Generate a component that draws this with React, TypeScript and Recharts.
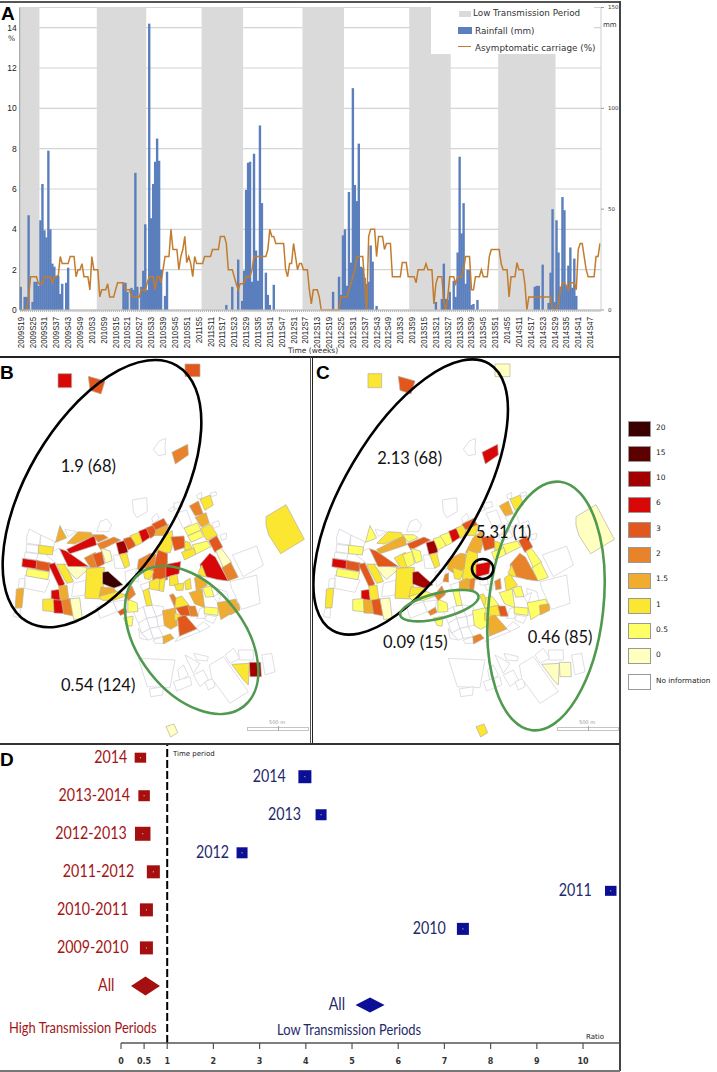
import React from 'react';
import {
  Bar,
  CartesianGrid,
  ComposedChart,
  Line,
  ReferenceArea,
  ReferenceLine,
  Scatter,
  ScatterChart,
  XAxis,
  YAxis,
} from 'recharts';

// Panel A: weekly values, one list per year (52 weeks, 2009 starts at week 19)
const RAIN_2009 = [11.5,0,6.5,6.5,47,0,4,14,14,12,44.5,62.5,39.5,36,79,40,23,21.5,17,17,8,13,0,13.5,21,0,0,0,0,0,0,0,0,0];
const RAIN_2010 = [0,0,0,0,0,0,0,0,0,0,0,0,0,0,0,0,0,0,13.5,13.5,9,0,11,10,68,11.5,0,11.5,19.5,42.5,10,142,45.5,62.5,73.5,85,74,20,0,7,19,0,0,0,0,0,0,0,0,0,0,0];
const RAIN_2011 = [0,0,0,0,0,0,0,0,0,0,0,0,0,0,0,0,0,0,2.5,0,0,11.5,0,0,25,0,4.5,19.5,59.5,73,73.5,14,77.5,29.5,14.5,91.5,53,0,18.5,7.5,2.5,0,12.5,0,0,0,0,0,0,0,0,0];
const RAIN_2012 = [0,0,0,0,0,0,0,0,0,0,0,0,0,0,0,0,0,0,0,0,9,0,0,16.5,7.5,37,40,12,58.5,23.5,110,62,54,82.5,21.5,21,16,13,14,32,24,0,2,0,0,0,0,0,0,0,0,0];
const RAIN_2013 = [0,0,0,0,0,0,0,0,0,0,0,0,0,0,0,0,0,0,0,0,4,0,0,5.5,23,5.5,5,9,0,14.5,6.5,28.5,76,38,53,13,20,20,2.5,3,0,5,0,0,0,0,0,0,0,0,0,0];
const RAIN_2014 = [0,0,0,0,0,0,0,0,0,0,0,0,0,0,0,0,0,0,11.5,12,12,0,22.5,0,0,3.5,18.5,50,4,44.5,28.5,11.5,56,49.5,12,22,31,11,25.5,7,0,0,0,0,0,0,0,0,0,0,0,0];

const CARRIAGE_2009 = [0,0,0,0,0.65,1.65,1.65,1.65,1.65,1.3,1.3,1.3,1.65,1.65,1.65,1.65,1.35,1.65,1.65,1.7,2.65,2.3,2.3,2.3,2.3,2.65,2.65,2.65,1.65,2,2,2.3,1.65,1.65];
const CARRIAGE_2010 = [1.65,1,2.65,2,2,2,0.65,1,1,1,1.3,0.65,0.65,0.65,1,1.35,1.35,1.35,1.35,1,1,1,0.7,0.65,0.65,0.65,0.65,1,1,0.95,1.35,1.65,1.65,1.65,1,1.65,1.65,1.35,2,2.65,2.65,2.65,4,3,3,3,2,2.65,3,3.65,2.35,2.65];
const CARRIAGE_2011 = [2.3,1.65,2.65,2.3,2.3,2.3,2.3,2.65,2.65,2.65,2.65,3,3,3,3,3.65,3.65,3.65,3.3,2,2,2,1.65,1.3,1,1.3,1.3,1.35,1.65,1.65,1.65,2,2.65,2.65,2.65,2.65,2.65,2.65,2.65,3,4,3.65,3.65,3.3,3.3,3.3,3.3,3.3,2,1.65,2.3,2.3];
const CARRIAGE_2012 = [3.3,2.65,2,2.3,2.3,2,2,2,1,0.3,1,1,1,0.65,0,0,0,0,0,0,0,0,0,0,0.65,0.65,0.65,0.65,1,1.3,1.65,2,2.65,2.65,2.65,2.65,1.3,0,3.65,4,4,4,2.65,3.65,3.65,3.65,3,3.3,3.3,3.3,1.65,1.65];
const CARRIAGE_2013 = [1.65,1.65,1.65,2.35,2.35,2.35,1.65,1.65,1.65,1.65,1.35,2,2,2,2,2.3,2,2,2,0.3,1.3,1.65,1.65,1.65,0.4,0,0.65,1.65,1.65,1.65,1.3,1.65,1.65,1.65,2,2.65,2.65,2.65,1,1,1.65,1.65,1.65,2,1.65,1.65,1.65,2.65,3,3,3,3];
const CARRIAGE_2014 = [3,2.3,2,2,2,0.65,1.65,1.65,1.65,2.35,2,2,2,1.3,0,0.65,0.65,0.65,0.65,0.65,0.65,0.65,0.65,0.65,0.65,0.65,0.65,0,0,0,0.3,1,1.35,1.35,1.2,1,1.35,1.35,1.35,1,3,3.3,3.3,2.65,2,1.65,1.65,1.65,1.65,2.65,2.65,3.3];

const YEARS = [2009, 2010, 2011, 2012, 2013, 2014];
const RAIN = [RAIN_2009, RAIN_2010, RAIN_2011, RAIN_2012, RAIN_2013, RAIN_2014];
const CARRIAGE = [CARRIAGE_2009, CARRIAGE_2010, CARRIAGE_2011, CARRIAGE_2012, CARRIAGE_2013, CARRIAGE_2014];

const LOW_PERIODS = [
  ['2009S19', '2009S28'],
  ['2010S6', '2010S30'],
  ['2011S7', '2011S27'],
  ['2012S6', '2012S26'],
  ['2013S8', '2013S28'],
  ['2014S1', '2014S29'],
];

const PCT_TICKS = [0, 2, 4, 6, 8, 10, 12, 14];
const MM_TICKS = [0, 50, 100, 150];

const weekly = YEARS.flatMap((year, y) =>
  RAIN[y].map((rain, i) => ({
    week: `${year}S${y === 0 ? i + 19 : i + 1}`,
    rain,
    carriage: CARRIAGE[y][i],
  }))
);

// Panels B and C: risk classes of the map legend
const RISK_LABELS = ['20', '15', '10', '6', '3', '2', '1.5', '1', '0.5', '0', 'No information'];
const RISK_COLORS = ['#3a0000', '#5c0000', '#a30000', '#d80808', '#e2581c', '#e8832a', '#f0ac2e', '#fbe631', '#ffff66', '#ffffbf', '#ffffff'];
const riskColor = (k: string) => RISK_COLORS[RISK_LABELS.indexOf(k)] ?? '#ffffff';

// map cells in map units: outline, class in panel B, class in panel C (n = no information)
const MAP_CELLS: [string, string, string][] = [
  ['460,283 478,258 497,250 495,278 497,298 475,302', 'n', 'n'],
  ['397,435 440,428 442,470 410,488 400,470', 'n', 'n'],
  ['80,545 88,522 122,540 118,570 80,565', 'n', 'n'],
  ['122,540 165,560 155,600 122,570', 'n', 'n'],
  ['80,568 116,572 114,595 78,590', 'n', 'n'],
  ['75,592 114,597 110,615 73,610', 'n', 'n'],
  ['75,660 150,675 135,712 75,700', 'n', 'n'],
  ['58,672 75,670 72,700 55,698', 'n', 'n'],
  ['45,762 62,758 60,788 40,785', 'n', 'n'],
  ['697,600 770,573 790,630 730,665', 'n', 'n'],
  ['690,680 770,660 780,745 725,763 695,700', 'n', 'n'],
  ['290,755 340,740 352,770 300,790', 'n', 'n'],
  ['340,740 380,735 375,770 352,770', 'n', 'n'],
  ['400,770 430,755 440,790 415,805', 'n', 'n'],
  ['430,755 455,750 470,785 440,790', 'n', 'n'],
  ['455,750 490,755 490,775 470,785', 'n', 'n'],
  ['415,805 440,790 450,820 425,835', 'n', 'n'],
  ['440,790 470,785 475,815 450,820', 'n', 'n'],
  ['470,785 490,778 495,810 475,815', 'n', 'n'],
  ['415,820 425,835 445,855 420,850', 'n', 'n'],
  ['425,835 450,820 460,850 445,855', 'n', 'n'],
  ['450,820 475,815 490,845 460,850', 'n', 'n'],
  ['460,855 490,845 490,865 465,865', 'n', 'n'],
  ['587,820 610,800 630,815 600,830', 'n', 'n'],
  ['540,840 590,822 600,830 525,860', 'n', 'n'],
  ['600,760 615,757 615,790 590,790', 'n', 'n'],
  ['620,780 650,785 640,805 615,795', 'n', 'n'],
  ['650,700 680,710 690,745 655,745', 'n', 'n'],
  ['640,725 665,712 655,745', 'n', 'n'],
  ['420,690 450,680 450,700 430,710', 'n', 'n'],
  ['375,650 410,640 400,680 380,695', 'n', 'n'],
  ['340,600 360,600 375,640 345,640', 'n', 'n'],
  ['300,500 320,492 335,510 325,530 290,530', 'n', 'n'],
  ['455,490 470,475 478,490 460,505', 'n', 'n'],
  ['505,465 520,455 525,465 510,470', 'n', 'n'],
  ['520,445 545,440 548,455 525,462', 'n', 'n'],
  ['528,475 560,465 575,505 550,520', 'n', 'n'],
  ['590,420 605,412 605,430 593,432', 'n', 'n'],
  ['630,415 648,410 650,420 635,425', 'n', 'n'],
  ['635,505 655,497 660,512 642,520', 'n', 'n'],
  ['660,540 680,535 678,552 665,556', 'n', 'n'],
  ['195,523 230,530 205,545', 'n', 'n'],
  ['220,685 260,675 255,720 215,725', 'n', 'n'],
  ['138,600 175,580 182,584 205,632 170,625', 'n', 'n'],
  ['415,910 525,915 510,998 442,995', 'n', 'n'],
  ['448,1002 490,995 488,1020 452,1025', 'n', 'n'],
  ['533,945 550,930 565,960 540,980', 'n', 'n'],
  ['555,900 600,925 580,955', 'n', 'n'],
  ['582,895 625,905 622,918 590,915', 'n', 'n'],
  ['520,980 570,965 575,990 530,1008', 'n', 'n'],
  ['580,960 610,945 625,975 600,995', 'n', 'n'],
  ['615,980 640,970 645,995 625,1005', 'n', 'n'],
  ['628,930 670,905 745,1010 690,1045 635,970', 'n', 'n'],
  ['675,900 700,880 720,910 690,925', 'n', 'n'],
  ['715,885 760,885 760,915 718,915', 'n', 'n'],
  ['785,900 815,895 825,950 795,960', 'n', 'n'],
  ['174,56 215,56 215,98 174,98', '6', '1'],
  ['265,64 315,78 303,117 270,106', '3', '3'],
  ['555,27 600,27 600,65 555,65', '3', '0'],
  ['516,292 563,268 565,300 526,327', '2', '6'],
  ['798,485 858,449 913,553 842,596 806,540 798,510', '1', '0'],
  ['498,1115 522,1107 533,1133 512,1146', '0', '1'],
  ['118,572 158,577 155,598 118,595', '1', '0.5'],
  ['70,612 112,618 108,640 68,634', '6', '6'],
  ['112,618 150,625 146,648 110,642', '3', '3'],
  ['85,642 145,652 140,672 82,662', '0.5', '0.5'],
  ['148,632 165,627 192,684 178,695', '6', '3'],
  ['172,632 195,630 218,677 200,682', '1', '1'],
  ['195,630 265,640 230,670 218,660', '0', '0'],
  ['182,584 200,590 260,632 205,632', '6', '3'],
  ['168,560 180,515 198,548', '1.5', '0.5'],
  ['205,563 235,532 270,534 275,545 225,565', '1.5', '1'],
  ['205,582 280,545 285,570 213,594', '6', '1.5'],
  ['280,540 310,540 322,548 295,560', '2', '0.5'],
  ['295,566 340,548 358,556 305,583', '2', '3'],
  ['255,610 285,595 292,635 272,636', '2', '1'],
  ['280,600 305,592 312,625 292,635', '3', '0.5'],
  ['305,582 330,590 335,615 318,622', '0', '0.5'],
  ['262,645 310,642 305,727 258,725', '1', '1'],
  ['310,654 325,652 365,688 340,697 310,685', '20', '10'],
  ['300,725 340,708 375,722 340,735 310,735', '1', '0.5'],
  ['305,697 340,700 345,710 300,722', '1.5', '1'],
  ['155,708 176,705 180,735 155,732', '6', '6'],
  ['178,695 200,693 205,733 182,735', '1.5', '1'],
  ['160,736 186,738 190,773 163,772', '6', '1.5'],
  ['130,735 158,733 160,768 130,765', '1', '0.5'],
  ['186,738 210,733 218,780 192,775', '2', '3'],
  ['212,735 238,732 245,788 222,790', '0', '0'],
  ['50,705 70,703 65,755 47,755', '1.5', '1'],
  ['350,565 375,558 382,590 358,597', '10', '10'],
  ['372,553 398,545 405,572 385,583', '3', '0.5'],
  ['392,543 420,533 428,560 410,570', '1', '0.5'],
  ['418,530 443,520 450,545 428,560', '6', '6'],
  ['440,520 460,512 470,535 452,548', '3', '1'],
  ['458,508 490,492 500,510 470,525', '3', '3'],
  ['470,525 503,510 495,540 465,540', '1.5', '1'],
  ['360,600 380,597 388,630 375,637', '1', '1'],
  ['515,530 490,550 470,590 510,590 518,560', '1', '1.5'],
  ['515,548 550,545 555,575 525,585', '3', '3'],
  ['568,453 595,438 610,478 585,482', '2', '1.5'],
  ['600,433 630,420 640,450 615,466', '1', '1'],
  ['585,487 618,473 628,505 605,517', '1.5', 'n'],
  ['555,520 592,505 600,525 565,540', '0.5', 'n'],
  ['566,543 600,528 608,545 575,560', '0.5', 'n'],
  ['605,522 630,510 650,540 620,553', '1', 'n'],
  ['628,558 650,545 666,575 645,590', '3', '3'],
  ['580,570 620,560 630,575 590,595', '0.5', '0.5'],
  ['547,592 580,580 585,598 555,613', '1', '0.5'],
  ['555,560 568,563 575,580 555,585', '1', '1'],
  ['650,590 665,583 692,620 670,635', '0', '0.5'],
  ['604,630 630,600 645,610 680,674 650,670 610,660', '6', '2'],
  ['668,640 692,625 712,665 685,675', '2', '0.5'],
  ['595,655 605,632 618,665 600,660', '1', '1'],
  ['460,640 475,590 500,600 500,670 460,672', '3', '1'],
  ['500,630 540,622 535,655 500,665', '6', '6'],
  ['418,615 450,598 465,600 460,640 430,650 415,640', '2', '1.5'],
  ['430,640 460,650 450,672 435,670', '1', '1'],
  ['450,680 470,672 482,675 478,705 450,700', '1', '1.5'],
  ['480,675 495,670 490,708 478,705', '1', '2'],
  ['510,665 530,660 535,690 510,690', '1', 'n'],
  ['525,690 550,685 548,705 530,705', '1', 'n'],
  ['555,680 570,672 573,700 558,703', '1', '2'],
  ['585,670 600,660 620,690 590,705', '1.5', '1'],
  ['570,715 605,705 612,755 585,745', '1.5', '0.5'],
  ['610,700 632,695 640,723 618,725', '0.5', '0.5'],
  ['615,757 652,760 652,780 615,775', '0.5', '0.5'],
  ['655,745 705,735 715,760 665,790', '1.5', '0.5'],
  ['690,752 715,748 718,765 692,778', '1.5', '1.5'],
  ['510,722 520,718 535,742 525,758', '2', '1'],
  ['530,730 545,725 565,750 525,760', '1', '0.5'],
  ['530,760 565,752 570,780 545,783', '3', '1'],
  ['565,755 585,755 593,782 572,782', '2', '3'],
  ['490,770 525,762 530,810 512,820 495,810', '1.5', '0.5'],
  ['525,775 550,785 545,795 525,795', '1', '1'],
  ['535,790 555,783 587,820 540,840', '3', '1.5'],
  ['490,845 510,838 520,850 492,865', '1.5', '2'],
  ['430,710 445,703 455,748 440,750', '1', '0.5'],
  ['385,735 410,745 412,768 385,770', '0.5', '0.5'],
  ['375,720 395,695 405,718 385,735', '2', '2'],
  ['372,790 398,785 395,812 382,810', '0.5', '0.5'],
  ['355,770 375,758 380,772 362,780', '3', '2'],
  ['405,660 415,655 415,680 400,678', 'n', '2'],
  ['695,928 748,925 745,990 730,975', '1', '0'],
  ['748,922 782,922 784,965 750,965', '10', '0'],
];

// ellipses in map units: centre x, centre y, semi axes, rotation, colour
const ZONES_B = [
  { x: 306, y: 416, a: 445, b: 227, angle: -59.7, stroke: '#000000' },
  { x: 575, y: 855, a: 253, b: 159, angle: 51.9, stroke: '#4f9a4f' },
];
const ZONES_C = [
  { x: 302, y: 426, a: 464, b: 201, angle: -59.6, stroke: '#000000' },
  { x: 708, y: 753, a: 375, b: 172, angle: -83.6, stroke: '#4f9a4f' },
  { x: 388, y: 752, a: 121, b: 38, angle: -14, stroke: '#4f9a4f' },
  { x: 518, y: 642, a: 32, b: 30, angle: 0, stroke: '#000000' },
];

// Panel D: rows counted from the bottom of the plot
const HIGH_LABELS = ['2014', '2013-2014', '2012-2013', '2011-2012', '2010-2011', '2009-2010', 'All'];
const HIGH_RATIOS = [0.42, 0.5, 0.47, 0.7, 0.55, 0.55, 0.53];
const HIGH_ROWS = [13, 11, 9, 7, 5, 3, 1];
const LOW_LABELS = ['2014', '2013', '2012', '2011', '2010', 'All'];
const LOW_RATIOS = [3.98, 4.33, 2.62, 10.6, 7.4, 5.39];
const LOW_ROWS = [12, 10, 8, 6, 4, 0];
const RATIO_TICKS = [0, 0.5, 1, 2, 3, 4, 5, 6, 7, 8, 9, 10];

// marker size and label gap in px, same order as the lists above
const HIGH_MARKS = [[11.5, 10, 13], [11.5, 11, 14], [15.5, 14, 16], [13, 13, 19], [13, 13, 18], [13, 13, 18], [29, 19, 31]];
const LOW_MARKS = [[13, 13, 19], [11, 11, 20], [11, 11, 13], [11.5, 10, 19], [12, 12, 17], [29, 15, 25]];

const highPoints = HIGH_LABELS.map((label, i) => ({ label, x: HIGH_RATIOS[i], y: HIGH_ROWS[i], mark: HIGH_MARKS[i] }));
const lowPoints = LOW_LABELS.map((label, i) => ({ label, x: LOW_RATIOS[i], y: LOW_ROWS[i], mark: LOW_MARKS[i] }));

const SANS = '"DejaVu Sans", sans-serif';
const PLAIN = '"Liberation Sans", sans-serif';
const HUMAN = 'Lato, sans-serif';

const Note = ({ x, y, size, color = '#111', font = SANS, weight = 400, squeeze = 1, children }: any) => (
  <span
    style={{
      position: 'absolute', left: x, top: y, fontSize: size, color, fontFamily: font,
      fontWeight: weight, lineHeight: 1, whiteSpace: 'nowrap',
      transform: `scaleX(${squeeze})`, transformOrigin: 'left top',
    }}
  >
    {children}
  </span>
);

const Box = ({ x, y, w, h, bg }: any) => (
  <div style={{ position: 'absolute', left: x, top: y, width: w, height: h, background: bg }} />
);

const WeekTick = ({ x, y, payload, index }: any) => (
  <g>
    <line x1={x} x2={x} y1={y - 8} y2={y - 6} stroke="#b5b5b5" />
    {index % 6 === 0 && (
      <text
        transform={`translate(${x + 3},${y - 1}) rotate(-90) scale(0.82,1)`}
        textAnchor="end"
        fontSize={9.5}
        fontFamily={PLAIN}
        fill="#222"
      >
        {payload.value}
      </text>
    )}
  </g>
);

// recharts keeps bars under the band width, the weeks touch each other in the original
const RainBar = ({ x, y, width, height, fill }: any) =>
  height > 0 ? <rect x={x + width / 2 - 1.2} y={y} width={2.4} height={height} fill={fill} /> : null;

const RainChart = () => (
  <ComposedChart
    width={621}
    height={357}
    data={weekly}
    barCategoryGap={0}
    margin={{ top: 7.5, right: 0, bottom: 0, left: 0 }}
  >
    <CartesianGrid yAxisId="pct" vertical={false} stroke="#d4d4d4" strokeWidth={1.2} />
    <XAxis
      dataKey="week"
      height={47}
      interval={0}
      tick={<WeekTick />}
      tickLine={false}
      axisLine={{ stroke: '#bdbdbd' }}
    />
    <YAxis
      yAxisId="pct"
      width={19.7}
      domain={[0, 15]}
      ticks={PCT_TICKS}
      interval={0}
      tickLine={false}
      tickSize={0}
      tickMargin={3}
      axisLine={{ stroke: '#9a9a9a' }}
      tick={{ fontSize: 8.5, fontFamily: PLAIN, fill: '#222' }}
    />
    <YAxis
      yAxisId="mm"
      orientation="right"
      width={20}
      domain={[0, 150]}
      ticks={MM_TICKS}
      interval={0}
      tickSize={3}
      tickMargin={4}
      axisLine={{ stroke: '#cfcfcf' }}
      tickLine={{ stroke: '#9a9a9a' }}
      tick={{ fontSize: 5.5, fontFamily: SANS, fill: '#333' }}
    />
    {LOW_PERIODS.map(([from, to]) => (
      <ReferenceArea
        key={from}
        yAxisId="pct"
        x1={from}
        x2={to}
        y1={0}
        y2={15}
        fill="#dadada"
        fillOpacity={1}
        stroke="none"
      />
    ))}
    <Bar yAxisId="mm" dataKey="rain" fill="#5b7fbd" shape={RainBar} isAnimationActive={false} />
    <Line
      yAxisId="pct"
      dataKey="carriage"
      type="linear"
      stroke="#c27c2e"
      strokeWidth={1.5}
      dot={false}
      isAnimationActive={false}
    />
  </ComposedChart>
);

const cellShape = (props: any) => {
  const { cx, cy, payload } = props;
  const { outline, x, y, risk } = payload;
  // the dense town centre was traced a little small, widen those blocks to close the gaps
  const dense = risk !== 'n' && y > 490 && y < 870;
  const grow = dense ? 1.12 : 1;
  const mx = outline.reduce((s: number, p: number[]) => s + p[0], 0) / outline.length;
  const my = outline.reduce((s: number, p: number[]) => s + p[1], 0) / outline.length;
  const pts = outline.map(([px, py]: number[]) => {
    const gx = mx + (px - mx) * grow;
    const gy = my + (py - my) * grow;
    return `${cx + (gx - x) / 3},${cy + (gy - y) / 3}`;
  });
  return (
    <polygon
      points={pts.join(' ')}
      fill={riskColor(risk)}
      stroke={risk === 'n' ? '#d0d0d8' : '#b8b0a0'}
      strokeWidth={0.7}
    />
  );
};

const zoneShape = (props: any) => {
  const { cx, cy, payload } = props;
  return (
    <ellipse
      cx={cx}
      cy={cy}
      rx={payload.a / 3}
      ry={payload.b / 3}
      transform={`rotate(${payload.angle} ${cx} ${cy})`}
      fill="none"
      stroke={payload.stroke}
      strokeWidth={2.6}
    />
  );
};

const mapData = (panel: 1 | 2) =>
  MAP_CELLS.map((cell) => {
    const outline = cell[0].split(' ').map((p) => p.split(',').map(Number));
    return { x: outline[0][0], y: outline[0][1], outline, risk: cell[panel] };
  });

const MapChart = ({ panel, zones }: any) => (
  <ScatterChart width={310} height={388.33} margin={{ top: 0, right: 0, bottom: 0, left: 0 }}>
    <XAxis type="number" dataKey="x" domain={[0, 930]} hide />
    <YAxis type="number" dataKey="y" domain={[0, 1165]} reversed hide />
    <Scatter data={mapData(panel)} shape={cellShape} isAnimationActive={false} />
    <Scatter data={zones} shape={zoneShape} isAnimationActive={false} />
  </ScatterChart>
);

const periodShape = (color: string, textColor: string) => (props: any) => {
  const { cx, cy, payload } = props;
  const [w, h, gap] = payload.mark;
  const isAll = payload.label === 'All';
  return (
    <g>
      {isAll ? (
        <polygon
          points={`${cx - w / 2},${cy} ${cx},${cy - h / 2} ${cx + w / 2},${cy} ${cx},${cy + h / 2}`}
          fill={color}
        />
      ) : (
        <>
          <rect x={cx - w / 2} y={cy - h / 2} width={w} height={h} fill={color} />
          <rect x={cx - 0.5} y={cy - 0.5} width={1} height={1} fill="#f4e48a" />
        </>
      )}
      <text
        transform={`translate(${cx - gap},${cy + 5.5}) scale(0.84,1)`}
        textAnchor="end"
        fontSize={17}
        fontFamily={HUMAN}
        fill={textColor}
      >
        {payload.label}
      </text>
    </g>
  );
};

const RatioChart = () => (
  <ScatterChart width={621} height={326} margin={{ top: 0, right: 1, bottom: 0, left: 121 }}>
    <XAxis
      type="number"
      dataKey="x"
      domain={[0, 10.8]}
      ticks={RATIO_TICKS}
      interval={0}
      height={27}
      tickSize={6}
      tickMargin={9}
      axisLine={{ stroke: '#555', strokeWidth: 1.5 }}
      tickLine={{ stroke: '#555', strokeWidth: 1.2 }}
      tick={{ fontSize: 8, fontWeight: 700, fontFamily: SANS, fill: '#333' }}
    />
    <YAxis type="number" dataKey="y" domain={[-2, 13.72]} hide />
    <ReferenceLine x={1} stroke="#000" strokeWidth={2} strokeDasharray="8 3" />
    <Scatter data={highPoints} shape={periodShape('#a50f0f', '#a31515')} isAnimationActive={false} />
    <Scatter data={lowPoints} shape={periodShape('#0a0f96', '#1f2a6b')} isAnimationActive={false} />
  </ScatterChart>
);

const Place = ({ x, y, children }: any) => (
  <div style={{ position: 'absolute', left: x, top: y }}>{children}</div>
);

export default function App() {
  return (
    <div style={{ position: 'absolute', left: 0, top: 0, width: 717, height: 1072, background: '#fff', overflow: 'hidden' }}>
      <Place x={0} y={0}><RainChart /></Place>
      <Place x={0} y={355}><MapChart panel={1} zones={ZONES_B} /></Place>
      <Place x={310} y={355}><MapChart panel={2} zones={ZONES_C} /></Place>
      <Place x={0} y={744}><RatioChart /></Place>

      {/* panel A legend, its white box hides the top of the grey periods */}
      <Box x={431} y={7} w={163} h={47} bg="#fff" />
      <Box x={459} y={11} w={12} h={6} bg="#dadada" />
      <Note x={473} y={9} size={8.8} color="#333">Low Transmission Period</Note>
      <Box x={458} y={27} w={14} h={7} bg="#5b7fbd" />
      <Note x={475} y={27} size={8.8} color="#333">Rainfall (mm)</Note>
      <Box x={458} y={46} w={13} h={1.4} bg="#c27c2e" />
      <Note x={475} y={44} size={8.8} color="#333">Asymptomatic carriage (%)</Note>
      <Note x={603} y={22} size={7} color="#333">mm</Note>
      <Note x={8} y={35} size={7.5} color="#333">%</Note>
      <Note x={288} y={347} size={7.5} color="#333">Time (weeks)</Note>

      {/* frames */}
      <Box x={0} y={1} w={620} h={1.5} bg="#555" />
      <Box x={619} y={1} w={1.5} h={1070} bg="#444" />
      <Box x={0} y={356} w={620} h={1.5} bg="#222" />
      <Box x={309.5} y={357} w={1} h={387} bg="#555" />
      <Box x={311.5} y={357} w={1} h={387} bg="#222" />
      <Box x={0} y={743} w={620} h={1.5} bg="#333" />
      <Box x={0} y={1070} w={620} h={1.5} bg="#777" />

      <Note x={1} y={4} size={19} weight={700} font={PLAIN} color="#000">A</Note>
      <Note x={0} y={363} size={19} weight={700} font={PLAIN} color="#000">B</Note>
      <Note x={316} y={363} size={19} weight={700} font={PLAIN} color="#000">C</Note>
      <Note x={0} y={750} size={19} weight={700} font={PLAIN} color="#000">D</Note>

      {/* map ratios */}
      <Note x={60.7} y={458} size={16.5} font={HUMAN}>1.9 (68)</Note>
      <Note x={61} y={677} size={16.5} font={HUMAN}>0.54 (124)</Note>
      <Note x={377.3} y={449.5} size={16.5} font={HUMAN}>2.13 (68)</Note>
      <Note x={476} y={523.5} size={16.5} font={HUMAN}>5.31 (1)</Note>
      <Note x={383} y={633.5} size={16.5} font={HUMAN}>0.09 (15)</Note>
      <Note x={527.7} y={628.5} size={16.5} font={HUMAN}>0.46 (85)</Note>

      {/* scale bars */}
      {[247, 557].map((x) => (
        <React.Fragment key={x}>
          <Note x={x + 22} y={720} size={5} color="#999">500 m</Note>
          <div style={{ position: 'absolute', left: x, top: 727, width: 60, height: 2, border: '1px solid #c4c4c4', borderLeftWidth: 1 }} />
          <Box x={x + 31} y={726} w={1} h={5} bg="#aaa" />
        </React.Fragment>
      ))}

      {/* map legend */}
      {RISK_LABELS.map((label, i) => (
        <React.Fragment key={label}>
          <div
            style={{
              position: 'absolute', left: 628, top: 420.7 + i * 25.3, width: 21, height: 14,
              background: RISK_COLORS[i], border: '1px solid #999',
            }}
          />
          <Note x={656} y={423.5 + i * 25.3} size={i === 10 ? 7.3 : 7.5} color="#222">{label}</Note>
        </React.Fragment>
      ))}

      {/* panel D notes */}
      <Note x={173} y={751} size={7} color="#222">Time period</Note>
      <Note x={9} y={1021} size={14.5} font={HUMAN} squeeze={0.89} color="#a31515">High Transmission Periods</Note>
      <Note x={277} y={1023} size={14.5} font={HUMAN} squeeze={0.89} color="#1f2a6b">Low Transmission Periods</Note>
      <Note x={586} y={1034} size={7} color="#222">Ratio</Note>
    </div>
  );
}
